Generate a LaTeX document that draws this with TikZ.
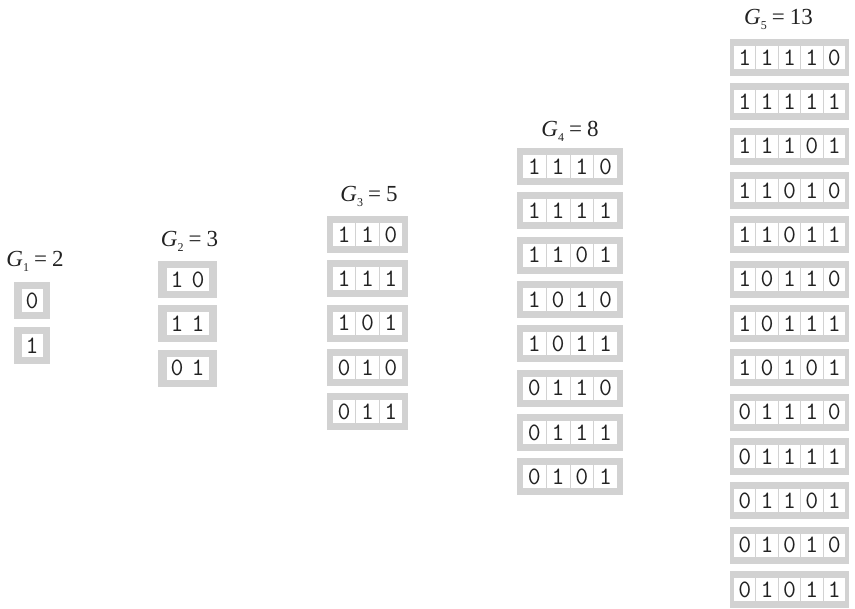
\documentclass[tikz,border=0pt]{standalone}
\usepackage{fontspec}
\setmainfont{Liberation Serif}
\definecolor{boxgray}{HTML}{D2D2D2}
\definecolor{txt}{HTML}{222222}
\tikzset{
  outerbox/.style={fill=boxgray, draw=none, minimum height=37pt, inner sep=0pt},
  cellbox/.style={fill=white, draw=none, minimum height=23pt, inner sep=0pt,
    font=\ttfamily\fontsize{25}{25}\selectfont, text=txt},
  lbl/.style={font=\fontsize{23}{25}\selectfont, text=txt, anchor=base, inner sep=0pt}
}
% #1 id, #2 cx, #3 first cy, #4 outer w, #5 inner w, #6 cells, #7 gap, #8 rows
\newcommand\drawcol[8]{%
  \foreach \r [count=\i] in {#8} {
    \pgfmathsetmacro\cy{#3+(\i-1)*44.33}
    \node[outerbox, minimum width=#4pt] (#1-\i) at (#2,\cy) {};
    \foreach \d [count=\j] in \r {
      \pgfmathsetmacro\cw{#5/#6}
      \pgfmathsetmacro\cx{#2-#5/2+(\j-0.5)*\cw}
      \node[cellbox, minimum width=\cw pt-#7pt] (#1-\i-\j) at (\cx,\cy) {\d};
    }
  }%
}
\newcommand\glabel[2]{{\itshape G}\raisebox{-0.45ex}{\fontsize{12}{12}\selectfont #1}\hspace{0.22em}=\hspace{0.22em}#2}
\begin{document}
\begin{tikzpicture}[x=1pt,y=-1pt]
\useasboundingbox (0,0) rectangle (855,609);
\node[lbl] (l1) at (35,267) {\glabel{1}{2}};
\node[lbl] (l2) at (189.5,247) {\glabel{2}{3}};
\node[lbl] (l3) at (369,202) {\glabel{3}{5}};
\node[lbl] (l4) at (570,137) {\glabel{4}{8}};
\node[lbl] (l5) at (778.5,25) {\glabel{5}{13}};
\drawcol{a}{32}{301}{36}{21}{1}{0}{{0},{1}}
\drawcol{b}{187.5}{279.5}{59}{42}{2}{0}{{1,0},{1,1},{0,1}}
\drawcol{c}{367.5}{234.5}{81}{70}{3}{1}{{1,1,0},{1,1,1},{1,0,1},{0,1,0},{0,1,1}}
\drawcol{d}{570}{166.5}{106}{95}{4}{1}{{1,1,1,0},{1,1,1,1},{1,1,0,1},{1,0,1,0},{1,0,1,1},{0,1,1,0},{0,1,1,1},{0,1,0,1}}
\drawcol{e}{789.5}{57.5}{119}{112}{5}{1}{{1,1,1,1,0},{1,1,1,1,1},{1,1,1,0,1},{1,1,0,1,0},{1,1,0,1,1},{1,0,1,1,0},{1,0,1,1,1},{1,0,1,0,1},{0,1,1,1,0},{0,1,1,1,1},{0,1,1,0,1},{0,1,0,1,0},{0,1,0,1,1}}
\end{tikzpicture}
\end{document}
